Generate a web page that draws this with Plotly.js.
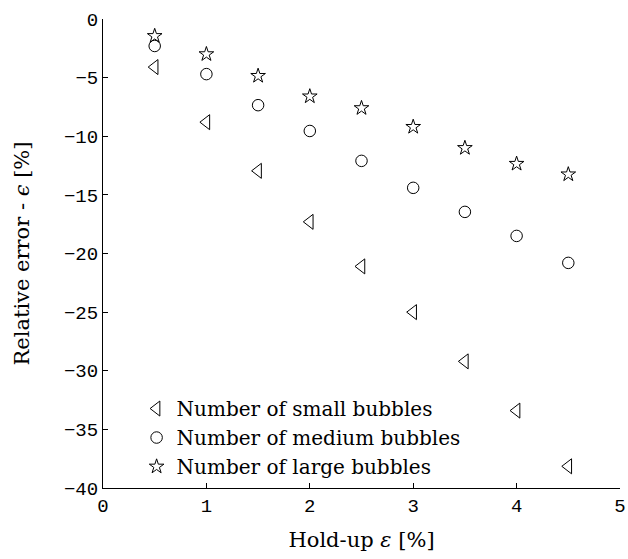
<!DOCTYPE html>
<html>
<head>
<meta charset="utf-8">
<script src="https://cdn.plot.ly/plotly-3.0.1.min.js"></script>
<style>html,body{margin:0;padding:0;background:#fff;}</style>
</head>
<body>
<div id="chart" style="width:628px;height:559px;"></div>
<script>
const holdup = [0.5, 1, 1.5, 2, 2.5, 3, 3.5, 4, 4.5];
const smallErr = [-4.1, -8.8, -12.95, -17.3, -21.1, -25.0, -29.2, -33.4, -38.15];
const mediumErr = [-2.3, -4.7, -7.35, -9.55, -12.1, -14.4, -16.45, -18.5, -20.8];
const largeErr = [-1.45, -3.0, -4.85, -6.6, -7.6, -9.2, -11.0, -12.35, -13.25];
const seriesNames = ["Number of small bubbles", "Number of medium bubbles", "Number of large bubbles"];
const xTicks = [0, 1, 2, 3, 4, 5];
const yTicks = [0, -5, -10, -15, -20, -25, -30, -35, -40];

const mk = (sym, s) => ({symbol: sym, size: s, color: '#000', line: {color: '#000', width: 1}});
const data = [
  {x: holdup, y: smallErr, name: seriesNames[0], mode: 'markers', type: 'scatter', marker: mk('triangle-left-open', 13)},
  {x: holdup, y: mediumErr, name: seriesNames[1], mode: 'markers', type: 'scatter', marker: mk('circle-open', 11.5)},
  {x: holdup, y: largeErr, name: seriesNames[2], mode: 'markers', type: 'scatter', marker: mk('star-open', 11)}
];
const serif = 'DejaVu Serif, Liberation Serif, serif';
const tickFont = {family: 'Liberation Mono, DejaVu Sans Mono, monospace', size: 19, color: '#000'};
const layout = {
  width: 628, height: 559,
  margin: {l: 103, r: 8, t: 19, b: 71},
  paper_bgcolor: '#fff', plot_bgcolor: '#fff',
  showlegend: true,
  legend: {x: 0.065, y: 0.211, xanchor: 'left', yanchor: 'top', bgcolor: 'rgba(0,0,0,0)',
           font: {family: serif, size: 20, color: '#000'},
           tracegroupgap: 0, itemwidth: 30},
  xaxis: {range: [0, 5], tickvals: xTicks, ticktext: xTicks.map(String), showgrid: false, zeroline: false,
          showline: true, linecolor: '#000', linewidth: 1, ticks: 'inside', ticklen: 5, tickcolor: '#000',
          tickfont: tickFont, fixedrange: true,
          title: {text: 'Hold-up <i>ε</i> [%]', font: {family: serif, size: 21, color: '#000'}, standoff: 15}},
  yaxis: {range: [-40, 0], tickvals: yTicks, ticktext: yTicks.map(v => v < 0 ? '\u2212' + Math.abs(v) : String(v)),
          showgrid: false, zeroline: false,
          showline: true, linecolor: '#000', linewidth: 1, ticks: 'inside', ticklen: 5, tickcolor: '#000',
          tickfont: tickFont, fixedrange: true,
          title: {text: 'Relative error - <i>ϵ</i> [%]', font: {family: serif, size: 21, color: '#000'}, standoff: 28}}
};
Plotly.newPlot('chart', data, layout, {displayModeBar: false, staticPlot: true});
</script>
</body>
</html>
